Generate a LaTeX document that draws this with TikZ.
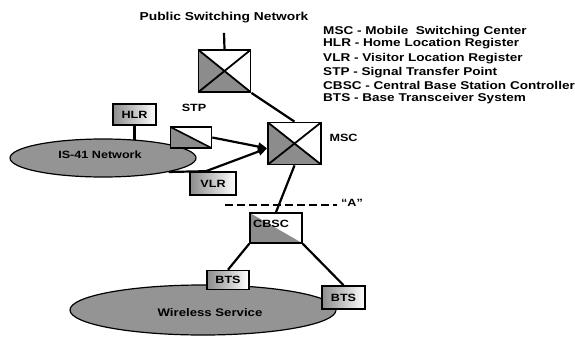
\documentclass[tikz,border=0pt]{standalone}
\usepackage{fontspec}
\setmainfont{Liberation Sans}[FakeStretch=1.2]
\usetikzlibrary{arrows.meta,shapes.geometric}
\pgfdeclarelayer{background}
\pgfsetlayers{background,main}
\begin{document}
\begin{tikzpicture}[x=1pt,y=-1pt,
  every node/.style={font=\bfseries},
  conn/.style={line width=2.2pt},
  arr/.style={conn,-{Triangle[length=9pt,width=8pt]}},
  sw/.style={draw,line width=1.8pt,fill=white,inner sep=0pt,minimum width=52pt,minimum height=42pt,
    path picture={
      \fill[black!45] (path picture bounding box.north west) -- (path picture bounding box.south east) -- (path picture bounding box.south west) -- cycle;
      \draw[line width=1.8pt] (path picture bounding box.north west) -- (path picture bounding box.south east);
      \draw[line width=1.8pt] (path picture bounding box.north east) -- (path picture bounding box.south west);}},
  box/.style={draw,line width=1.6pt,inner sep=0pt,left color=black!45,right color=white,font=\bfseries\fontsize{10.5}{12}\selectfont},
  net/.style={ellipse,draw,line width=1.2pt,fill=black!42,inner sep=0pt},
  lab/.style={font=\bfseries\fontsize{10.5}{13}\selectfont},
  leg/.style={anchor=west,inner sep=0pt,font=\bfseries\fontsize{11.3}{13}\selectfont}]
\path[use as bounding box] (0,0) rectangle (575,337);

% networks
\node[net,minimum width=186pt,minimum height=38pt] (is41) at (103,158) {};
\node[font=\bfseries\fontsize{10.5}{12}\selectfont] (is41t) at (100,155) {IS-41 Network};
\node[net,minimum width=266pt,minimum height=50pt] (ws) at (203,310) {};
\node[font=\bfseries\fontsize{11}{12}\selectfont] (wst) at (210,313) {Wireless Service};

% switches and boxes
\node[font=\bfseries\fontsize{11.5}{13}\selectfont] (psn) at (224,18) {Public Switching Network};
\node[sw] (psw) at (224.5,71) {};
\node[sw,minimum width=53pt] (msc) at (294.5,143.5) {};
\node[lab,anchor=west] (mscl) at (326,138) {MSC};
\node[draw,line width=1.6pt,fill=white,inner sep=0pt,minimum width=41pt,minimum height=21pt,
  path picture={
    \fill[black!45] (path picture bounding box.north west) -- (path picture bounding box.south east) -- (path picture bounding box.south west) -- cycle;
    \draw[line width=1.6pt] (path picture bounding box.north west) -- (path picture bounding box.south east);}]
  (stp) at (191,137.5) {};
\node[lab] (stpl) at (194,108) {STP};
\node[box,minimum width=43pt,minimum height=21pt] (hlr) at (134.5,114.5) {HLR};
\node[box,minimum width=46pt,minimum height=23pt] (vlr) at (213,183.5) {VLR};
\node[box,minimum width=52pt,minimum height=30pt,left color=white,right color=white,
  path picture={\fill[black!45] (path picture bounding box.south west) -- (path picture bounding box.north west) -- (path picture bounding box.south east) -- cycle;}] (cbsc) at (276,228) {};
\node[font=\bfseries\fontsize{10.5}{12}\selectfont,anchor=west,inner sep=0pt] (cbsct) at (253,224) {CBSC};
\node[box,minimum width=42pt,minimum height=19pt] (bts1) at (228,280) {BTS};
\node[box,minimum width=43pt,minimum height=23pt] (bts2) at (343.5,297.5) {BTS};

% interface A
\coordinate (a1) at (225,205);
\coordinate (a2) at (337,205);
\node[lab] (alab) at (352,203) {``A''};

% legend
\node[leg] (l1) at (323,32) {MSC - Mobile\ \ Switching Center};
\node[leg] (l2) at (323,44) {HLR - Home Location Register};
\node[leg] (l3) at (323,59) {VLR - Visitor Location Register};
\node[leg] (l4) at (323,73) {STP - Signal Transfer Point};
\node[leg] (l5) at (323,85) {CBSC - Central Base Station Controller};
\node[leg] (l6) at (323,99) {BTS - Base Transceiver System};

\begin{pgfonlayer}{background}
\fill[white] (0,0) rectangle (575,337);
\draw[conn] (hlr.south) -- (hlr.south |- is41.center);
\draw[conn] (is41.-12) -- (vlr.120);
\end{pgfonlayer}

\draw[conn] ([yshift=-6pt]psn.south) -- (psw.north);
\draw[conn] (psw.south east) -- (msc.north);
\draw[arr] (stp.east) -- (msc.190);
\draw[arr] (vlr.120) -- (msc.190);
\draw[conn] (msc.south) -- (cbsc.north);
\draw[conn] (cbsc.south west) -- (bts1.north);
\draw[conn] (cbsc.south east) -- (bts2.north);
\draw[conn,dash pattern=on 8pt off 4pt] (a1) -- (a2);
\end{tikzpicture}
\end{document}
